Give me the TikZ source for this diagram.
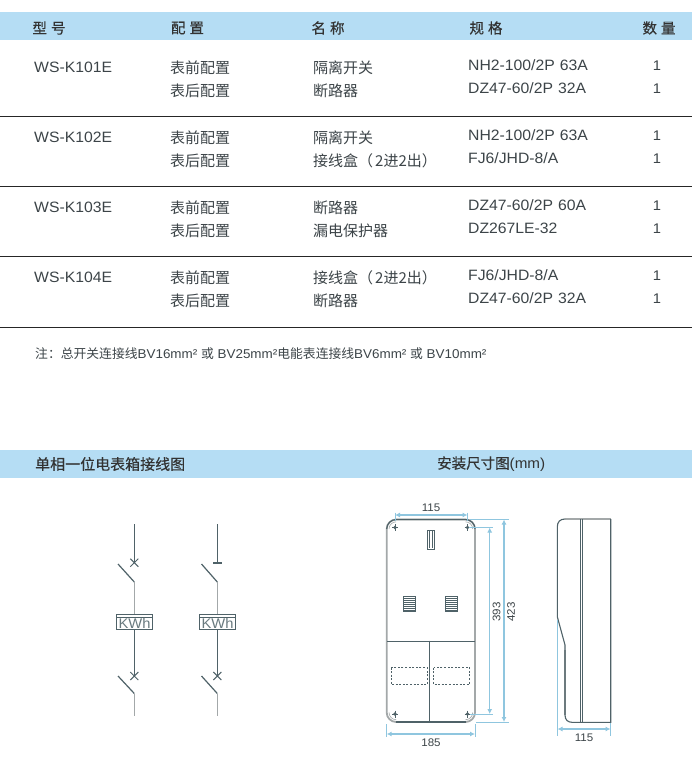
\documentclass[tikz,border=0pt]{standalone}
\usepackage{fontspec}
\setmainfont[FakeStretch=1.05]{Liberation Sans}
\newfontfamily\cjk{Noto Sans CJK SC}
\newfontfamily\cjkb[FakeBold=0.35]{Noto Sans CJK SC}
\newcommand{\CC}[1]{{\cjk #1}}
\newcommand{\CB}[1]{{\cjkb #1}}
\definecolor{band}{HTML}{B5DDF4}
\definecolor{ink}{HTML}{3C4448}
\definecolor{wire}{HTML}{4F6268}
\definecolor{wirelt}{HTML}{A3A8A9}
\definecolor{dimc}{HTML}{8FC6DF}
\usetikzlibrary{arrows.meta}
\tikzset{
  x=1pt,y=-1pt,
  tabtext/.style={anchor=west,inner sep=0,text=ink,font=\fontsize{15}{16}\selectfont,yshift=-0.8pt},
  lattext/.style={anchor=west,inner sep=0,text=ink,font=\fontsize{15}{16}\selectfont},
  qty/.style={anchor=center,inner sep=0,text=ink,font=\fontsize{14}{16}\selectfont},
  head/.style={anchor=center,inner sep=0,text=black!80,font=\fontsize{14.5}{16}\selectfont},
  rule/.style={line width=1.1pt,black!85},
  wireline/.style={line width=1.2pt,wire},
  wirepale/.style={line width=1.2pt,wirelt},
  meter/.style={draw=wire,line width=1pt,minimum width=36pt,minimum height=15.5pt,inner sep=0,text=wire!85},
  kwh/.style={inner sep=0,text=wire!85,font=\fontsize{14}{15}\selectfont},
  case/.style={line width=1.1pt,wire},
  casepale/.style={line width=1.8pt,wirelt},
  dimline/.style={line width=1.3pt,dimc,{Latex[length=5pt,width=5pt]}-{Latex[length=5pt,width=5pt]}},
  extline/.style={line width=0.7pt,dimc},
  dimtext/.style={inner sep=0,text=ink,font=\fontsize{11}{12}\selectfont},
}
\begin{document}
\begin{tikzpicture}
\useasboundingbox (0,0) rectangle (692,763);
\fill[white] (0,0) rectangle (692,763);
% bands
\fill[band] (0,12) rectangle (692,40);
\fill[band] (0,450) rectangle (692,478);
% headers
\node[head] (h1) at (49,28) {\CB{型\hspace{4pt}号}};
\node[head] (h2) at (187.5,28) {\CB{配\hspace{4pt}置}};
\node[head] (h3) at (328,28) {\CB{名\hspace{4pt}称}};
\node[head] (h4) at (486,28) {\CB{规\hspace{4pt}格}};
\node[head] (h5) at (659,28) {\CB{数\hspace{4pt}量}};
% rules
\draw[rule] (0,116.5) -- (692,116.5);
\draw[rule] (0,186.5) -- (692,186.5);
\draw[rule] (0,256.5) -- (692,256.5);
\draw[rule] (0,327.5) -- (692,327.5);
% row 1
\node[lattext] (a1) at (34,67) {WS-K101E};
\node[tabtext] (b1) at (170,67) {\CC{表前配置}};
\node[tabtext] (b2) at (170,90) {\CC{表后配置}};
\node[tabtext] (c1) at (313,67) {\CC{隔离开关}};
\node[tabtext] (c2) at (313,90) {\CC{断路器}};
\node[lattext] (d1) at (468,65.5) {NH2-100/2P\hspace{5pt}63A};
\node[lattext] (d2) at (468,88.5) {DZ47-60/2P\hspace{5pt}32A};
\node[qty] (e1) at (657,65.5) {1};
\node[qty] (e2) at (657,88.5) {1};
% row 2
\node[lattext] (a2) at (34,137) {WS-K102E};
\node[tabtext] (b3) at (170,137) {\CC{表前配置}};
\node[tabtext] (b4) at (170,160) {\CC{表后配置}};
\node[tabtext] (c3) at (313,137) {\CC{隔离开关}};
\node[tabtext] (c4) at (313,160) {\CC{接线盒（\hspace{2pt}2进2出）}};
\node[lattext] (d3) at (468,135.5) {NH2-100/2P\hspace{5pt}63A};
\node[lattext] (d4) at (468,158.5) {FJ6/JHD-8/A};
\node[qty] (e3) at (657,135.5) {1};
\node[qty] (e4) at (657,158.5) {1};
% row 3
\node[lattext] (a3) at (34,207) {WS-K103E};
\node[tabtext] (b5) at (170,207) {\CC{表前配置}};
\node[tabtext] (b6) at (170,230) {\CC{表后配置}};
\node[tabtext] (c5) at (313,207) {\CC{断路器}};
\node[tabtext] (c6) at (313,230) {\CC{漏电保护器}};
\node[lattext] (d5) at (468,205.5) {DZ47-60/2P\hspace{5pt}60A};
\node[lattext] (d6) at (468,228.5) {DZ267LE-32};
\node[qty] (e5) at (657,205.5) {1};
\node[qty] (e6) at (657,228.5) {1};
% row 4
\node[lattext] (a4) at (34,277) {WS-K104E};
\node[tabtext] (b7) at (170,277) {\CC{表前配置}};
\node[tabtext] (b8) at (170,300) {\CC{表后配置}};
\node[tabtext] (c7) at (313,277) {\CC{接线盒（\hspace{2pt}2进2出）}};
\node[tabtext] (c8) at (313,300) {\CC{断路器}};
\node[lattext] (d7) at (468,275.5) {FJ6/JHD-8/A};
\node[lattext] (d8) at (468,298.5) {DZ47-60/2P\hspace{5pt}32A};
\node[qty] (e7) at (657,275.5) {1};
\node[qty] (e8) at (657,298.5) {1};
% note
\node[anchor=west,inner sep=0,text=ink,font=\fontsize{12.8}{14}\selectfont] (note) at (35,354) {\CC{注：总开关连接线}BV16mm² \CC{或} BV25mm²\CC{电能表连接线}BV6mm² \CC{或} BV10mm²};
% band 2
\node[head,anchor=west,font=\fontsize{15}{16}\selectfont] (t1) at (35,464) {\CB{单相一位电表箱接线图}};
\node[head,anchor=west,font=\fontsize{14.5}{16}\selectfont] (t2) at (437,464) {\CB{安装尺寸图}(mm)};
% circuit left
\node[meter] (m1) at (134.5,622) {};
\node[meter] (m2) at (217.5,622) {};
\node[kwh] (k1) at (134.5,623.5) {KWh};
\node[kwh] (k2) at (217.5,623.5) {KWh};
\draw[line width=0.8pt,wire] (m1.north west)++(0,3.2) -- ++(36,0);
\draw[line width=0.8pt,wire] (m2.north west)++(0,3.2) -- ++(36,0);
\coordinate (la) at (134.3,524);
\coordinate (lx) at (134.3,562.7);
\coordinate (lb) at (134.3,582);
\coordinate (lc) at (134.3,676);
\coordinate (ld) at (134.3,693.5);
\coordinate (le) at (134.3,716);
\draw[wireline] (la) -- (lx);
\draw[wireline] (118,564) -- (lb);
\draw[wirepale] (lb) -- (m1.north -| lb);
\draw[wireline] (m1.south -| lb) -- (lc);
\draw[wireline] (118,676) -- (ld);
\draw[wirepale] (ld) -- (le);
\draw[line width=1pt,wire] (130.3,558.7) -- (138.3,566.7) (130.3,566.7) -- (138.3,558.7);
\draw[line width=1pt,wire] (130.3,672) -- (138.3,680) (130.3,680) -- (138.3,672);
% circuit right
\coordinate (ra) at (217.3,524);
\coordinate (rx) at (217.3,563);
\coordinate (rb) at (217.3,582);
\coordinate (rc) at (217.3,676);
\coordinate (rd) at (217.3,693.5);
\coordinate (re) at (217.3,716);
\draw[wireline] (ra) -- (rx);
\draw[wireline] (213,563) -- (221.5,563);
\draw[wireline] (201.5,564) -- (rb);
\draw[wirepale] (rb) -- (m2.north -| rb);
\draw[wireline] (m2.south -| rb) -- (rc);
\draw[wireline] (201.5,676) -- (rd);
\draw[wirepale] (rd) -- (re);
\draw[line width=1pt,wire] (213.3,672) -- (221.3,680) (213.3,680) -- (221.3,672);
% front view
\draw[casepale] (386.7,529) arc[start angle=180,end angle=270,radius=9.5] -- (465.5,519.5) arc[start angle=270,end angle=360,radius=9.5] -- (475,712.5) arc[start angle=0,end angle=90,radius=9.5] -- (396.2,722) arc[start angle=90,end angle=180,radius=9.5] -- cycle;
\draw[case] (386.7,529) arc[start angle=180,end angle=270,radius=9.5] -- (465.5,519.5) arc[start angle=270,end angle=360,radius=9.5];
\draw[case] (396.2,722) -- (465.5,722);
\draw[line width=0.6pt,wirelt] (389,529) arc[start angle=180,end angle=270,radius=7.2];
\draw[line width=0.6pt,wirelt] (472.7,529) arc[start angle=360,end angle=270,radius=7.2];
\draw[line width=0.6pt,wirelt] (389,712.5) arc[start angle=180,end angle=90,radius=7.2];
\draw[line width=0.6pt,wirelt] (472.7,712.5) arc[start angle=0,end angle=90,radius=7.2];
\foreach \sx/\sy in {395/527.5,467.5/527.5,395/714,467.5/714}{
  \fill[wire] (\sx,\sy) circle (1.9);
  \draw[line width=0.7pt,wire] (\sx-3,\sy) -- (\sx+3,\sy) (\sx,\sy-3.5) -- (\sx,\sy+3.5);
}
\draw[line width=0.8pt,wire] (427.3,530) rectangle (434.7,549);
\draw[line width=0.6pt,wire] (429.3,531) -- (429.3,548) (432.7,531) -- (432.7,548);
\foreach \vx in {403.3,445.3}{
  \draw[line width=0.8pt,wire] (\vx,596) rectangle (\vx+12,611);
  \foreach \vy in {598,600,...,610}{\draw[line width=0.6pt,wire] (\vx,\vy) -- (\vx+12,\vy);}
}
\draw[case] (387,641.3) -- (475,641.3);
\draw[case] (429.3,640.5) -- (429.3,721);
\draw[line width=0.8pt,wire,dash pattern=on 2pt off 1.6pt] (391,667.5) rectangle (427,684.5);
\draw[line width=0.8pt,wire,dash pattern=on 2pt off 1.6pt] (433.5,667.5) rectangle (469.5,684.5);
% dimensions front
\coordinate (d115a) at (395,515);
\coordinate (d115b) at (467.5,515);
\draw[dimline] (d115a) -- (d115b);
\draw[extline] (d115a) ++(0,-2.5) -- ++(0,8);
\draw[extline] (d115b) ++(0,-2.5) -- ++(0,8);
\node[dimtext] (l115a) at (431,507.5) {115};
\coordinate (d393a) at (489.7,527.5);
\coordinate (d393b) at (489.7,714);
\draw[dimline] (d393a) -- (d393b);
\draw[extline] (469,527.5) -- (493,527.5);
\draw[extline] (470,714) -- (493,714);
\node[dimtext,rotate=90] (l393) at (496.5,612) {393};
\coordinate (d423a) at (504,519.5);
\coordinate (d423b) at (504,722);
\draw[dimline] (d423a) -- (d423b);
\draw[extline] (470,519.5) -- (509,519.5);
\draw[extline] (476,722) -- (509,722);
\node[dimtext,rotate=90] (l423) at (511,612) {423};
\coordinate (d185a) at (386.7,734);
\coordinate (d185b) at (475,734);
\draw[dimline] (d185a) -- (d185b);
\draw[extline] (386.7,724) -- (386.7,737);
\draw[extline] (475,724) -- (475,737);
\node[dimtext] (l185) at (431,743) {185};
% side view
\draw[casepale] (565,519) -- (610.7,519);
\draw[casepale] (565,650) -- (565,715);
\draw[case] (565,519) .. controls (560,519) and (557.3,522) .. (557.3,527) -- (557.3,616.7) -- (565,645) -- (565,715) .. controls (565,720) and (568,722.3) .. (572,722.3) -- (610.7,722.3) -- (610.7,519);
\draw[case] (580.7,519) -- (580.7,722.3);
\draw[case] (582.7,519) -- (582.7,722.3);
\draw[extline] (557.3,620) -- (557.3,736);
\draw[extline] (610.7,723) -- (610.7,736);
\coordinate (d115c) at (557.5,729);
\coordinate (d115d) at (610.5,729);
\draw[dimline] (d115c) -- (d115d);
\node[dimtext] (l115b) at (584,737.5) {115};
\end{tikzpicture}
\end{document}
